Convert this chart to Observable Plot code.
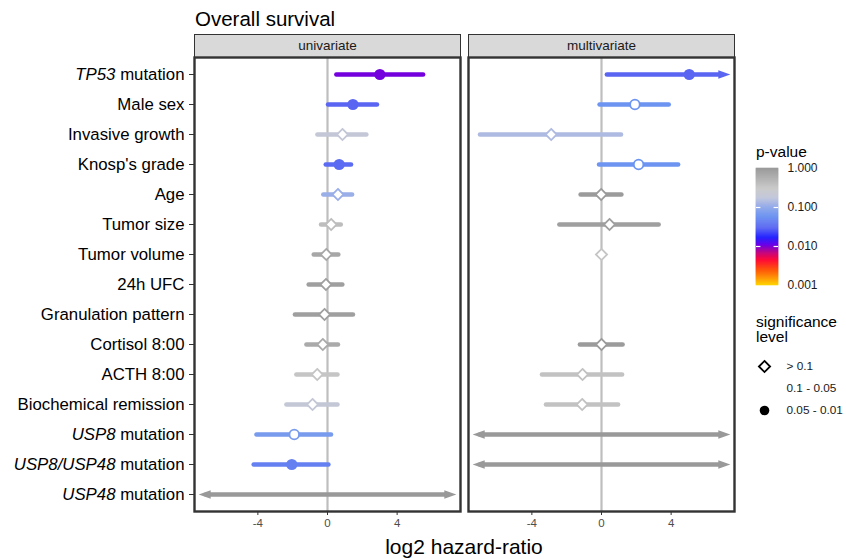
<!DOCTYPE html>
<html><head><meta charset="utf-8">
<script src="https://cdn.jsdelivr.net/npm/d3@7"></script>
<script src="https://cdn.jsdelivr.net/npm/@observablehq/plot@0.6"></script>
<style>
body{margin:0;background:#fff;font-family:"Liberation Sans",Arial,Helvetica,sans-serif;}
#wrap{position:relative;width:846px;height:559px;overflow:hidden;background:#fff;}
#wrap svg{position:absolute;}
.lbl{position:absolute;white-space:pre;color:#000;}
g[aria-label="x-axis tick label"] text{fill:#4D4D4D;}
</style></head><body><div id="wrap"></div>
<script>
// ---------- data ----------
const variables = ["TP53 mutation","Male sex","Invasive growth","Knosp's grade","Age","Tumor size","Tumor volume","24h UFC","Granulation pattern","Cortisol 8:00","ACTH 8:00","Biochemical remission","USP8 mutation","USP8/USP48 mutation","USP48 mutation"];
const italicPart = ["TP53","","","","","","","","","","","","USP8","USP8/USP48","USP48"];
const panels = ["univariate","multivariate"];

const uniEst  = [3.01, 1.46, 0.86, 0.67, 0.60, 0.21, -0.07, -0.09, -0.17, -0.27, -0.59, -0.86, -1.91, -2.05, null];
const uniLow  = [0.54, 0.06, -0.55, -0.07, -0.21, -0.34, -0.76, -1.05, -1.84, -1.18, -1.76, -2.33, -4.05, -4.21, -Infinity];
const uniHigh = [5.52, 2.87, 2.26, 1.38, 1.44, 0.79, 0.65, 0.88, 1.49, 0.63, 0.60, 0.60, 0.23, 0.08, Infinity];
const uniP    = [0.0105, 0.03, 0.2, 0.033, 0.11, 0.4, 0.7, 0.85, 0.85, 0.65, 0.32, 0.21, 0.07, 0.045, 1];

const multiEst  = [5.04, 1.92, -2.89, 2.13, -0.02, 0.46, 0.0, null, null, 0.0, -1.09, -1.11, null, null, null];
const multiLow  = [0.34, -0.08, -6.95, -0.11, -1.17, -2.39, null, null, null, -1.21, -3.39, -3.16, -Infinity, -Infinity, null];
const multiHigh = [Infinity, 3.89, 1.15, 4.43, 1.17, 3.31, null, null, null, 1.24, 1.21, 0.98, Infinity, Infinity, null];
const multiP    = [0.03, 0.06, 0.14, 0.06, 0.95, 0.85, 0.32, null, null, 0.95, 0.35, 0.35, 1, 1, null];

const colorStopsP = [0.001, 0.0025, 0.0045, 0.007, 0.011, 0.017, 0.03, 0.06, 0.11, 0.18, 0.3, 0.5, 1];
const colorStops  = ["#FFD700","#FF5000","#FF0030","#C00080","#6A00E8","#1E1EFF","#5A66F2","#6C94F0","#9AAEE8","#C2C7DA","#C8C8C8","#B4B4B4","#999999"];

const legendTicks = [0.001, 0.01, 0.1, 1];
const sigLevels = ["> 0.1", "0.1 - 0.05", "0.05 - 0.01"];

// ---------- build ----------
const rows = [];
variables.forEach((v, i) => {
  rows.push({panel: "univariate", variable: v, est: uniEst[i], low: uniLow[i], high: uniHigh[i], p: uniP[i]});
  rows.push({panel: "multivariate", variable: v, est: multiEst[i], low: multiLow[i], high: multiHigh[i], p: multiP[i]});
});
const XLIM = 7.64, TIP = 7.4, CAPBACK = 0.45;
const colorOpts = {type: "log", domain: colorStopsP, range: colorStops, interpolate: "rgb"};

const arrowRight = {draw(ctx) { ctx.moveTo(0, 0); ctx.lineTo(-12, -4.3); ctx.lineTo(-12, 4.3); ctx.closePath(); }};
const arrowLeft  = {draw(ctx) { ctx.moveTo(0, 0); ctx.lineTo(12, -4.3); ctx.lineTo(12, 4.3); ctx.closePath(); }};
const diamond    = {draw(ctx, size) { const r = Math.sqrt(size / Math.PI) * 1.12; ctx.moveTo(0, -r); ctx.lineTo(r, 0); ctx.lineTo(0, r); ctx.lineTo(-r, 0); ctx.closePath(); }};

const ci = rows.filter(d => d.low != null);
const pts = rows.filter(d => d.est != null);
const W = 846, H = 559, ML = 194, MR = 112, MT = 57, MB = 48;
const panelH = H - MT - MB;

const chart = Plot.plot({
  width: W, height: H,
  marginLeft: ML, marginRight: MR, marginTop: MT, marginBottom: MB,
  style: {fontFamily: '"Liberation Sans", Arial, sans-serif', background: "transparent", overflow: "visible"},
  fx: {domain: panels, paddingInner: 0.0292, paddingOuter: 0, axis: null, label: null},
  x: {domain: [-XLIM, XLIM], label: null},
  y: {type: "point", domain: variables, range: [74, 494], padding: 0, label: null},
  color: colorOpts,
  marks: [
    Plot.frame({fill: "#D9D9D9", stroke: "#333", strokeWidth: 1, insetTop: -23, insetBottom: panelH}),
    Plot.text(panels, {fx: d => d, text: d => d, frameAnchor: "top", lineAnchor: "middle", dy: -11.5, fontSize: 13.5, fill: "#1A1A1A"}),
    Plot.ruleX([0], {stroke: "#BEBEBE", strokeWidth: 2.2}),
    Plot.ruleY(ci, {
      fx: "panel", y: "variable",
      x1: d => d.low === -Infinity ? -(TIP - CAPBACK) : d.low,
      x2: d => d.high === Infinity ? (TIP - CAPBACK) : d.high,
      stroke: "p", strokeWidth: 4.6, strokeLinecap: "round"
    }),
    Plot.dot(ci.filter(d => d.high === Infinity), {fx: "panel", y: "variable", x: () => TIP, symbol: arrowRight, fill: "p", r: 5}),
    Plot.dot(ci.filter(d => d.low === -Infinity), {fx: "panel", y: "variable", x: () => -TIP, symbol: arrowLeft, fill: "p", r: 5}),
    Plot.dot(pts.filter(d => d.p > 0.1), {fx: "panel", y: "variable", x: "est", symbol: diamond, r: 5, fill: "white", stroke: "p", strokeWidth: 1.8}),
    Plot.dot(pts.filter(d => d.p > 0.05 && d.p <= 0.1), {fx: "panel", y: "variable", x: "est", r: 4.8, fill: "white", stroke: "p", strokeWidth: 1.8}),
    Plot.dot(pts.filter(d => d.p <= 0.05), {fx: "panel", y: "variable", x: "est", r: 5.6, fill: "p"}),
    Plot.frame({stroke: "#333", strokeWidth: 2.4}),
    Plot.axisX({ticks: [-4, 0, 4], tickSize: 4, tickPadding: 3, tickFormat: d => String(d), fontSize: 11.5, stroke: "#333"}),
    Plot.axisY({tickSize: 5, tickPadding: 5, fontSize: 16.8, fill: "#000", stroke: "#333"})
  ]
});
chart.style.left = "0px"; chart.style.top = "0px";
d3.select(chart).selectAll('g[aria-label="y-axis tick label"] text').each(function() {
  const t = this.textContent, i = variables.indexOf(t), it = i >= 0 ? italicPart[i] : "";
  if (it) {
    const s = d3.select(this); s.text(null);
    s.append("tspan").attr("font-style", "italic").text(it);
    s.append("tspan").text(t.slice(it.length));
  }
});
const wrap = document.getElementById("wrap");
wrap.appendChild(chart);

// ---------- legends ----------
const steps = d3.range(120).map(i => ({p1: Math.pow(10, -3 + 3 * i / 120), p2: Math.pow(10, -3 + 3 * (i + 1) / 120)}));
const bar = Plot.plot({
  width: 100, height: 150, marginLeft: 10, marginRight: 68, marginTop: 18, marginBottom: 15,
  style: {fontFamily: '"Liberation Sans", Arial, sans-serif', background: "transparent", overflow: "visible"},
  x: {domain: [0, 1], axis: null},
  y: {type: "log", domain: [0.001, 1]},
  color: colorOpts,
  marks: [
    Plot.rect(steps, {x1: 0, x2: 1, y1: "p1", y2: "p2", fill: d => Math.sqrt(d.p1 * d.p2), stroke: d => Math.sqrt(d.p1 * d.p2), strokeWidth: 0.6}),
    Plot.ruleY([0.01, 0.1], {x1: 0, x2: 0.2, stroke: "white", strokeWidth: 1.2}),
    Plot.ruleY([0.01, 0.1], {x1: 0.8, x2: 1, stroke: "white", strokeWidth: 1.2}),
    Plot.axisY(legendTicks, {anchor: "right", tickSize: 0, tickPadding: 9, tickFormat: d3.format(".3f"), fontSize: 12, fill: "#1A1A1A", label: null})
  ]
});
bar.style.left = "746px"; bar.style.top = "150px";
wrap.appendChild(bar);

const sig = Plot.plot({
  width: 100, height: 75, marginLeft: 0, marginRight: 0, marginTop: 0, marginBottom: 0,
  style: {fontFamily: '"Liberation Sans", Arial, sans-serif', background: "transparent", overflow: "visible"},
  x: {domain: [0, 1], range: [0, 100], axis: null},
  y: {type: "point", domain: sigLevels, range: [15, 60], padding: 0, axis: null},
  marks: [
    Plot.dot([sigLevels[0]], {x: () => 0.18, y: d => d, symbol: diamond, r: 5, fill: "white", stroke: "black", strokeWidth: 1.8}),
    Plot.dot([sigLevels[1]], {x: () => 0.18, y: d => d, r: 4.8, fill: "white", stroke: "white", strokeWidth: 1.8}),
    Plot.dot([sigLevels[2]], {x: () => 0.18, y: d => d, r: 4.8, fill: "black"}),
    Plot.text(sigLevels, {x: () => 0.4, y: d => d, text: d => d, textAnchor: "start", fontSize: 11.8, fill: "#1A1A1A"})
  ]
});
sig.style.left = "746px"; sig.style.top = "350px";
wrap.appendChild(sig);

// ---------- text ----------
function label(text, x, baseline, size, align, lh) {
  const d = document.createElement("div");
  d.className = "lbl"; d.textContent = text;
  d.style.fontSize = size + "px";
  d.style.lineHeight = (lh || size) + "px";
  const half = ((lh || size) - 1.117 * size) / 2;
  d.style.top = (baseline - half - 0.905 * size) + "px";
  d.style.left = x + "px";
  if (align === "center") d.style.transform = "translateX(-50%)";
  wrap.appendChild(d);
}
label("Overall survival", 195, 26, 20.5);
label("log2 hazard-ratio", 464, 554, 21, "center");
label("p-value", 756, 157, 15.5);
label("significance\nlevel", 756, 327, 15.5, null, 15);
</script></body></html>
